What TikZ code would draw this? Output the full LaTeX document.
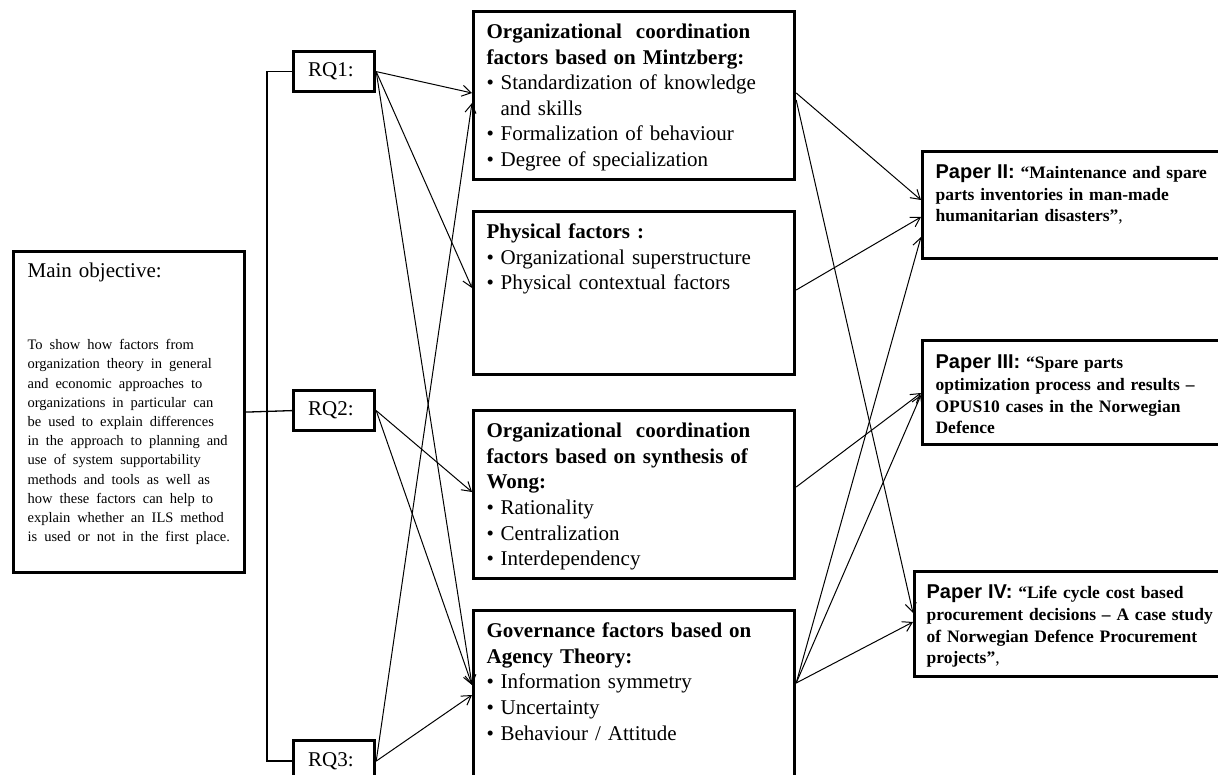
\documentclass[tikz,border=0pt]{standalone}
\usepackage{fontspec}
\setmainfont{Liberation Serif}
\newfontfamily\papersans{Liberation Sans}
\usetikzlibrary{arrows.meta}
\newcommand{\itm}{\par\hangindent=14pt\hangafter=1\makebox[14pt][l]{\textbullet}}
\newcommand{\papertag}[1]{{\fontsize{20pt}{21.7pt}\papersans\bfseries Paper #1}{\fontsize{20pt}{21.7pt}\papersans :} }

\begin{document}
\begin{tikzpicture}[
    x=1pt, y=-1pt,
    font=\fontsize{21pt}{25.6pt}\selectfont,
    box/.style={draw, line width=3.2pt, anchor=north west, inner ysep=0pt, align=left},
    factor/.style={box, inner xsep=13pt, text width=295pt, text height=27pt},
    paper/.style={box, inner xsep=13pt, text width=290pt, text height=27pt, font=\fontsize{17.5pt}{21.7pt}\selectfont\bfseries},
    rqbox/.style={draw, line width=3.2pt, anchor=north west, inner sep=0pt, minimum width=81pt, minimum height=40pt, text width=52pt, align=left},
    link/.style={line width=1.3pt},
    arr/.style={-{Straight Barb[length=9pt,width=11pt]}, line width=1pt}
  ]
    \useasboundingbox (0,0) rectangle (1218,775);
    \clip (0,0) rectangle (1218,775);

    % objective and research questions
    \node[box, inner xsep=14pt, text width=203pt, text height=26pt, text depth=295pt] (mainobj) at (12,250)
      {Main objective:\par\vspace{53pt}{\fontsize{14.5pt}{19.2pt}\selectfont\parskip=0pt\rightskip=-15pt plus 1fil\parfillskip=0pt plus 1fil
       To show how factors from\par organization theory in general\par and economic approaches to\par organizations in particular can\par be used to explain differences\par in the approach to planning and\par use of system supportability\par methods and tools as well as\par how these factors can help to\par explain whether an ILS method\par is used or not in the first place.\par}};
    \node[rqbox] (rq1) at (292,50) {RQ1:};
    \node[rqbox] (rq2) at (292,389) {RQ2:};
    \node[rqbox, minimum height=41pt] (rq3) at (292,739) {RQ3:};

    % factor boxes
    \node[factor, text depth=141pt] (mintz) at (472,10)
      {\textbf{Organizational~ coordination\\factors based on Mintzberg:}\itm Standardization of knowledge and skills\itm Formalization of behaviour\itm Degree of specialization};
    \node[factor, text depth=136pt] (phys) at (472,210)
      {\textbf{Physical factors :}\itm Organizational superstructure\itm Physical contextual factors};
    \node[factor, text depth=141pt] (wong) at (472,409)
      {\textbf{Organizational~ coordination\\factors based on synthesis of\\Wong:}\itm Rationality\itm Centralization\itm Interdependency};
    \node[factor, text depth=144pt] (gov) at (472,609)
      {\textbf{Governance factors based on\\Agency Theory:}\itm Information symmetry\itm Uncertainty\itm Behaviour / Attitude};

    % papers
    \node[paper, text depth=80pt] (p2) at (921,150)
      {\papertag{II}“Maintenance and spare\\parts inventories in man-made\\humanitarian disasters”\textmd{,}};
    \node[paper, text height=28pt, text depth=76pt] (p3) at (921,339)
      {\papertag{III}“Spare parts\\optimization process and results –\\OPUS10 cases in the Norwegian\\Defence};
    \node[paper, inner xsep=12pt, text depth=78pt] (p4) at (913,570)
      {\papertag{IV}“Life cycle cost based\\procurement decisions – A case study\\of Norwegian Defence Procurement\\projects”\textmd{,}};

    \draw[link] (rq1.west) -- ++(-25,0) |- (rq3.west);
    \draw[link] (mainobj.east) -- (rq2.west);

    \foreach \s/\t/\d in {rq1/mintz/83, rq1/phys/78, rq1/gov/76, rq2/wong/83, rq2/gov/76, rq3/mintz/93, rq3/gov/86}
      \draw[arr] (\s.east) -- ([yshift=-\d]\t.north west);
    \foreach \s/\a/\t/\b in {mintz/83/p2/50, mintz/90/p4/43, phys/80/p2/67, wong/78/p3/54, gov/74/p2/87, gov/74/p3/56, gov/74/p4/52}
      \draw[arr] ([yshift=-\a]\s.north east) -- ([yshift=-\b]\t.north west);
\end{tikzpicture}
\end{document}
